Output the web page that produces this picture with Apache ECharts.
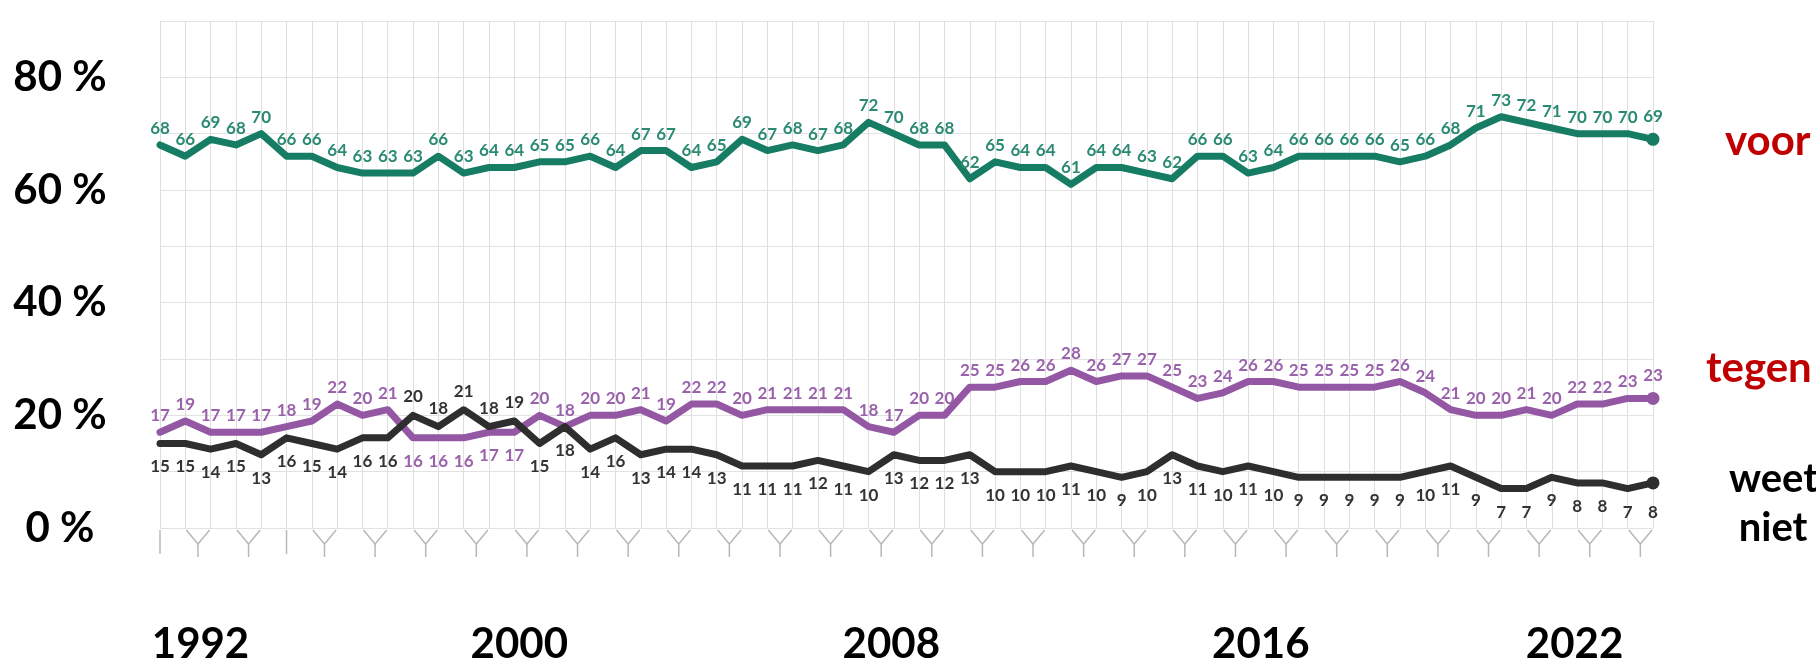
<!DOCTYPE html>
<html>
<head>
<meta charset="utf-8">
<title>voor / tegen / weet niet</title>
<script src="https://cdn.jsdelivr.net/npm/echarts@6/dist/echarts.min.js"></script>
<style>
html, body { margin: 0; padding: 0; background: #fff; }
#main { width: 1816px; height: 662px; }
</style>
</head>
<body>
<div id="main"></div>
<script>
// metingen van links naar rechts (percentages)
var voor = [68, 66, 69, 68, 70, 66, 66, 64, 63, 63, 63, 66, 63, 64, 64, 65, 65, 66, 64, 67, 67, 64, 65, 69, 67, 68, 67, 68, 72, 70,
  68, 68, 62, 65, 64, 64, 61, 64, 64, 63, 62, 66, 66, 63, 64, 66, 66, 66, 66, 65, 66, 68, 71, 73, 72, 71, 70, 70, 70, 69]
var tegen = [17, 19, 17, 17, 17, 18, 19, 22, 20, 21, 16, 16, 16, 17, 17, 20, 18, 20, 20, 21, 19, 22, 22, 20, 21, 21, 21, 21, 18, 17,
  20, 20, 25, 25, 26, 26, 28, 26, 27, 27, 25, 23, 24, 26, 26, 25, 25, 25, 25, 26, 24, 21, 20, 20, 21, 20, 22, 22, 23, 23]
var weetNiet = [15, 15, 14, 15, 13, 16, 15, 14, 16, 16, 20, 18, 21, 18, 19, 15, 18, 14, 16, 13, 14, 14, 13, 11, 11, 11, 12, 11, 10, 13,
  12, 12, 13, 10, 10, 10, 11, 10, 9, 10, 13, 11, 10, 11, 10, 9, 9, 9, 9, 9, 10, 11, 9, 7, 7, 9, 8, 8, 7, 8]

// jaartallen onder de as, op de plek (meting-index) waar ze staan
var yearLabels = ['1992', '2000', '2008', '2016', '2022']
var yearAt = [1.6, 14.2, 28.9, 43.5, 55.9]

var last = voor.length - 1

// enkele streepjes en Y-vormen onder de as
var groups = [[0, 0, 0], [1, 2, 0], [3, 4, 0], [5, 5, 0]]
for (var g = 6; g < voor.length; g += 2) groups.push([g, g + 1, 0])

// punten waar het label aan de andere kant van de lijn staat (kruising)
var crossing = [10, 11, 12, 13, 14]

function makeData(values, pos, dist, flipDist) {
  return values.map(function (v, i) {
    var flip = crossing.indexOf(i) >= 0 && flipDist
    return {
      value: [i, v],
      symbolSize: i === last ? 13 : 0,
      label: {
        position: flip ? (pos === 'top' ? 'bottom' : 'top') : pos,
        distance: flip ? flipDist : dist
      }
    }
  })
}

function lineSeries(name, data, color, labelColor, endLabel) {
  return {
    name: name,
    type: 'line',
    data: data,
    symbol: 'circle',
    showSymbol: true,
    itemStyle: { color: color },
    lineStyle: { color: color, width: 7, join: 'round', cap: 'round' },
    label: {
      show: true,
      color: labelColor,
      fontFamily: 'Lato',
      fontWeight: 'bold',
      fontSize: 17
    },
    endLabel: endLabel,
    emphasis: { disabled: true }
  }
}

var bigFont = { fontFamily: 'Lato', fontWeight: 'bold', fontSize: 42 }

var chart = echarts.init(document.getElementById('main'))
var option = {
  animation: false,
  grid: { left: 160, right: 163, top: 21, bottom: 134, outerBoundsMode: 'none' },
  xAxis: {
    type: 'value',
    min: 0,
    max: last,
    interval: 1,
    axisLine: { show: false },
    axisTick: { show: false },
    splitLine: { show: true, lineStyle: { color: '#dedede', width: 1 } },
    axisLabel: {
      customValues: yearAt,
      margin: 116,
      verticalAlign: 'middle',
      color: '#000',
      fontFamily: bigFont.fontFamily,
      fontWeight: bigFont.fontWeight,
      fontSize: 42,
      formatter: function (v) {
        var best = 0
        for (var i = 1; i < yearAt.length; i++) {
          if (Math.abs(yearAt[i] - v) < Math.abs(yearAt[best] - v)) best = i
        }
        return yearLabels[best]
      }
    }
  },
  yAxis: {
    type: 'value',
    min: 0,
    max: 90,
    interval: 10,
    axisLine: { show: false },
    axisTick: { show: false },
    splitLine: { show: true, lineStyle: { color: '#e2e2e2', width: 1 } },
    axisLabel: {
      margin: 100,
      align: 'center',
      color: '#000',
      fontFamily: bigFont.fontFamily,
      fontWeight: bigFont.fontWeight,
      fontSize: 42,
      formatter: function (v) {
        return v % 20 === 0 && v < 90 ? v + ' %' : ''
      }
    }
  },
  series: [
    {
      type: 'custom',
      silent: true,
      clip: false,
      z: 1,
      data: groups,
      encode: { x: [0, 1], y: 2 },
      renderItem: function (params, api) {
        var a = api.coord([api.value(0), 0])
        var b = api.coord([api.value(1), 0])
        var mid = (a[0] + b[0]) / 2
        var y0 = a[1] + 2
        var style = { stroke: '#b8b8b8', lineWidth: 1.5, fill: null }
        if (api.value(0) === api.value(1)) {
          return { type: 'line', shape: { x1: mid, y1: y0, x2: mid, y2: y0 + 24 }, style: style }
        }
        return {
          type: 'group',
          children: [
            { type: 'polyline', shape: { points: [[a[0] + 1, y0], [mid, y0 + 14], [b[0] - 1, y0]] }, style: style },
            { type: 'line', shape: { x1: mid, y1: y0 + 14, x2: mid, y2: y0 + 27 }, style: style }
          ]
        }
      }
    },
    lineSeries('voor', makeData(voor, 'top', 8), '#167c64', '#2a8a72', {
      show: true, formatter: 'voor', offset: [64, 2], color: '#c00000',
      fontFamily: 'Lato', fontWeight: 'bold', fontSize: 42
    }),
    lineSeries('tegen', makeData(tegen, 'top', 8, 15), '#9457a3', '#9a62ab', {
      show: true, formatter: 'tegen', offset: [45, -30], color: '#c00000',
      fontFamily: 'Lato', fontWeight: 'bold', fontSize: 42
    }),
    lineSeries('weet niet', makeData(weetNiet, 'bottom', 15, 10), '#2e2e2e', '#333333', {
      show: true, formatter: 'weet\n niet', offset: [68, 21], color: '#000',
      fontFamily: 'Lato', fontWeight: 'bold', fontSize: 40, lineHeight: 49
    })
  ]
}

chart.setOption(option)
</script>
</body>
</html>
